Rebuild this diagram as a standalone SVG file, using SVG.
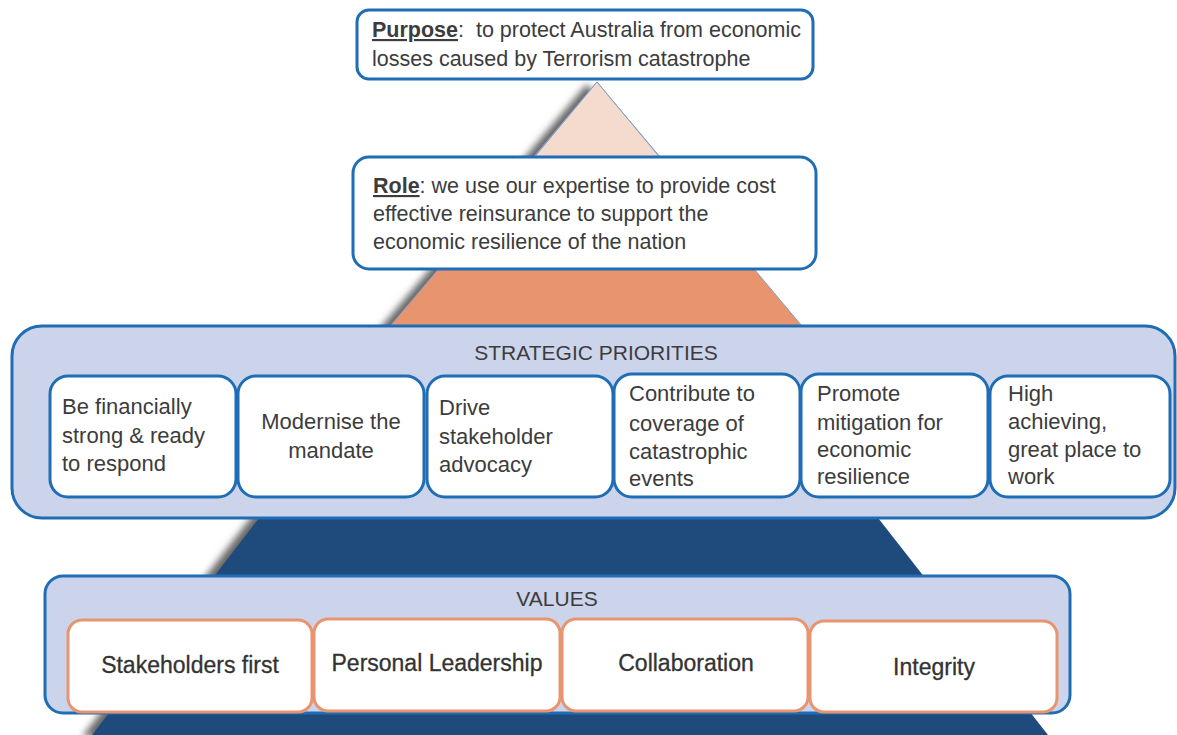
<svg xmlns="http://www.w3.org/2000/svg" width="1177" height="735" viewBox="0 0 1177 735">
<style>
  .t { font-family: "Liberation Sans", Arial, sans-serif; fill: #3c3c3c; font-size: 22px; }
  .h { font-size: 21.5px; }
  .c { text-anchor: middle; }
  .bluebox { fill: #ffffff; stroke: #1F6DB4; stroke-width: 3; }
  .band { fill: #CCD4EC; stroke: #1F6DB4; stroke-width: 3; }
  .valbox { fill: #ffffff; stroke: #E8956F; stroke-width: 3; }
  .val { font-family: "Liberation Sans", Arial, sans-serif; fill: #333333; font-size: 23px; text-anchor: middle; stroke: #333333; stroke-width: 0.3; }
  .u { font-weight: bold; text-decoration: underline; }
</style>
<defs>
  <filter id="sh" x="-20%" y="-20%" width="140%" height="140%">
    <feGaussianBlur stdDeviation="3.5"/>
  </filter>
</defs>
<rect width="1177" height="735" fill="#ffffff"/>

<g id="pyramid">
  <g filter="url(#sh)" transform="translate(-10,2)" fill="#666666">
    <polygon points="273,500 864,500 1048,735 92,735"/>
    <polygon points="597,82 812,338 380,338"/>
  </g>
  <polygon points="273,500 864,500 1048,735 92,735" fill="#1F4A7C"/>
  <polygon points="597,82 812,338 380,338" fill="#E8956F" stroke="#7F9FD0" stroke-width="1"/>
  <polygon points="597,82 662,160 532,160" fill="#F5DACE" stroke="#7F9FD0" stroke-width="1"/>
</g>

<g id="purpose">
  <rect class="bluebox" x="357" y="10" width="456" height="69" rx="12"/>
  <text class="t h" x="372" y="37"><tspan class="u">Purpose</tspan>:&#160; to protect Australia from economic</text>
  <text class="t h" x="372" y="66">losses caused by Terrorism catastrophe</text>
</g>

<g id="role">
  <rect class="bluebox" x="353" y="157" width="463" height="112" rx="16"/>
  <text class="t h" x="373" y="193"><tspan class="u">Role</tspan>: we use our expertise to provide cost</text>
  <text class="t h" x="373" y="221">effective reinsurance to support the</text>
  <text class="t h" x="373" y="249">economic resilience of the nation</text>
</g>

<g id="strategic-priorities">
  <rect class="band" x="12" y="326" width="1163" height="192" rx="30"/>
  <text class="t c" x="596" y="360" style="font-size:21px">STRATEGIC PRIORITIES</text>
</g>

<g id="sp1">
  <rect class="bluebox" x="50" y="376" width="186" height="121" rx="18"/>
  <text class="t" x="62" y="414">Be financially</text>
  <text class="t" x="62" y="443">strong &amp; ready</text>
  <text class="t" x="62" y="471">to respond</text>
</g>
<g id="sp2">
  <rect class="bluebox" x="238" y="376" width="186" height="121" rx="18"/>
  <text class="t c" x="331" y="429">Modernise the</text>
  <text class="t c" x="331" y="458">mandate</text>
</g>
<g id="sp3">
  <rect class="bluebox" x="427" y="376" width="186" height="121" rx="18"/>
  <text class="t" x="439" y="415">Drive</text>
  <text class="t" x="439" y="444">stakeholder</text>
  <text class="t" x="439" y="472">advocacy</text>
</g>
<g id="sp4">
  <rect class="bluebox" x="614" y="374" width="186" height="123" rx="18"/>
  <text class="t" x="629" y="401">Contribute to</text>
  <text class="t" x="629" y="431">coverage of</text>
  <text class="t" x="629" y="459">catastrophic</text>
  <text class="t" x="629" y="486">events</text>
</g>
<g id="sp5">
  <rect class="bluebox" x="801" y="374" width="187" height="123" rx="18"/>
  <text class="t" x="817" y="401">Promote</text>
  <text class="t" x="817" y="430">mitigation for</text>
  <text class="t" x="817" y="457">economic</text>
  <text class="t" x="817" y="484">resilience</text>
</g>
<g id="sp6">
  <rect class="bluebox" x="990" y="376" width="180" height="121" rx="18"/>
  <text class="t" x="1008" y="401">High</text>
  <text class="t" x="1008" y="429">achieving,</text>
  <text class="t" x="1008" y="457">great place to</text>
  <text class="t" x="1008" y="484">work</text>
</g>

<g id="values">
  <rect class="band" x="45" y="576" width="1025" height="137" rx="18"/>
  <text class="t c" x="557" y="606" style="font-size:21px">VALUES</text>
</g>
<g id="v1">
  <rect class="valbox" x="68" y="620" width="244" height="92" rx="14"/>
  <text class="val" x="190" y="673">Stakeholders first</text>
</g>
<g id="v2">
  <rect class="valbox" x="314" y="619" width="246" height="92" rx="14"/>
  <text class="val" x="437" y="671">Personal Leadership</text>
</g>
<g id="v3">
  <rect class="valbox" x="562" y="619" width="246" height="92" rx="14"/>
  <text class="val" x="686" y="671">Collaboration</text>
</g>
<g id="v4">
  <rect class="valbox" x="810" y="621" width="247" height="91" rx="14"/>
  <text class="val" x="934" y="675">Integrity</text>
</g>

<g id="connectors"></g>
</svg>
